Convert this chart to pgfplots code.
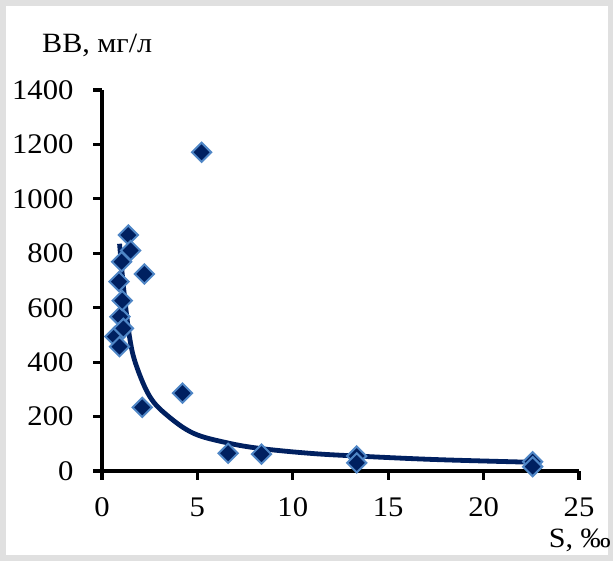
\documentclass[border=0pt]{standalone}
\usepackage{fontspec}
\setmainfont{Liberation Serif}[FakeStretch=1.08]
\usepackage{pgfplots}
\pgfplotsset{compat=1.18}
\definecolor{navy}{RGB}{0,32,96}
\definecolor{edgeblue}{RGB}{79,134,198}
\definecolor{bordergray}{RGB}{224,224,224}
\begin{document}
\begin{tikzpicture}[x=1bp,y=1bp]
\useasboundingbox (0,0) rectangle (613,561);
\fill[bordergray] (0,0) rectangle (613,561);
\fill[white] (6,6) rectangle (608,555);
\begin{axis}[
  at={(102bp,90bp)}, anchor=origin,
  scale only axis, width=477bp, height=381bp,
  xmin=0, xmax=25, ymin=0, ymax=1400,
  axis x line=bottom, axis y line=left,
  axis line style={-, line width=3.6bp, black},
  xtick={0,5,...,25}, ytick={0,200,...,1400},
  tick align=outside, major tick length=9bp,
  tick style={line width=3.2bp, black},
  /pgf/number format/assume math mode=true,
  /pgf/number format/1000 sep={},
  ticklabel style={font=\fontsize{28.5}{30}\selectfont},
  yticklabel style={anchor=east, xshift=-16bp},
  xticklabel style={anchor=north, yshift=-14bp},
  clip=false,
]
\addplot[navy, line width=4.8bp, smooth, tension=0.6] coordinates {
 (0.92,835) (1.15,660) (1.47,481) (1.82,383) (2.51,273) (3.39,206)
 (4.78,139) (6.53,104) (8.27,83) (10.89,65) (13.35,55) (17.5,42) (22.57,32)
};
\addplot[only marks, mark=square*, mark size=6.8bp,
  mark options={rotate=45, fill=navy, draw=edgeblue, line width=2bp}] coordinates {
 (0.68,494) (0.92,457) (0.94,567) (1.12,524) (1.06,626) (0.89,696)
 (1.03,769) (1.38,867) (1.50,810) (2.22,724) (2.11,234) (4.22,286)
 (5.22,1171) (6.61,65) (8.36,62) (13.35,55) (13.35,30) (22.57,34) (22.57,16)
};
\end{axis}
\node[anchor=base west, inner sep=0pt, font=\fontsize{28}{30}\selectfont] at (42,508) {ВВ, мг/л};
\node[anchor=base east, inner sep=0pt, font=\fontsize{28}{30}\selectfont] at (611,13) {S, ‰};
\end{tikzpicture}
\end{document}
